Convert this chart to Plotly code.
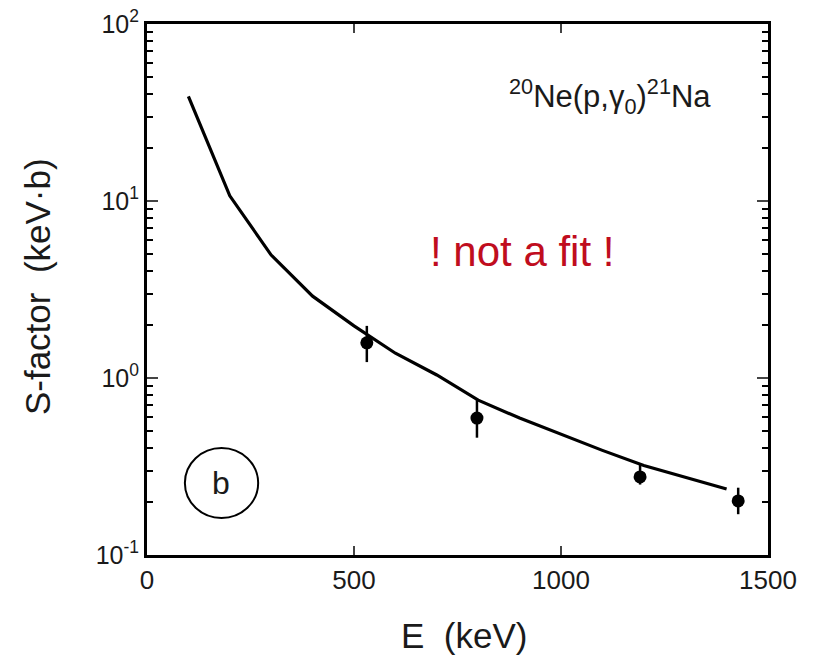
import plotly.graph_objects as go

# Model curve (not a fit)
curve_E = [100, 200, 300, 400, 500, 600, 700, 800, 900, 1000, 1100, 1200, 1300, 1400]
curve_S = [39.0, 10.7, 4.95, 2.9, 1.97, 1.38, 1.04, 0.75, 0.594, 0.48, 0.39, 0.32, 0.275, 0.236]

# Data points
data_E = [531, 797, 1191, 1428]
data_S = [1.58, 0.594, 0.276, 0.202]
err_up = [1.97, 0.75, 0.33, 0.24]
err_dn = [1.23, 0.46, 0.25, 0.17]

y_tickvals = [0.1, 1, 10, 100]
y_ticktext = ["10<sup>-1</sup>", "10<sup>0</sup>", "10<sup>1</sup>", "10<sup>2</sup>"]
y_minor = [m * d for d in (0.1, 1, 10) for m in range(2, 10)]
x_tickvals = [0, 500, 1000, 1500]

FONT = "Liberation Sans, Arial, Helvetica, sans-serif"
TXT = "#1a1a1a"

fig = go.Figure()
fig.add_trace(go.Scatter(x=curve_E, y=curve_S, mode="lines",
                         line=dict(color="black", width=3.2), showlegend=False))
fig.add_trace(go.Scatter(
    x=data_E, y=data_S, mode="markers",
    marker=dict(color="black", size=13),
    error_y=dict(type="data", symmetric=False,
                 array=[u - s for u, s in zip(err_up, data_S)],
                 arrayminus=[s - d for s, d in zip(data_S, err_dn)],
                 color="black", thickness=2.5, width=0),
    showlegend=False))

fig.update_layout(
    width=815, height=657,
    margin=dict(l=147, r=47, t=24, b=102),
    paper_bgcolor="white", plot_bgcolor="white",
    font=dict(family=FONT, color=TXT, size=24),
    xaxis=dict(range=[0, 1500], tickvals=x_tickvals, ticks="inside", ticklen=9,
               tickwidth=2, showline=True, linewidth=3, linecolor="black",
               mirror="ticks", showgrid=False, zeroline=False, automargin=False,
               tickfont=dict(size=26, color=TXT), ticklabelstandoff=0),
    yaxis=dict(type="log", range=[-1, 2], tickvals=y_tickvals, ticktext=y_ticktext,
               ticks="inside", ticklen=11, tickwidth=2, showline=True, linewidth=3,
               linecolor="black", mirror="ticks", showgrid=False, zeroline=False,
               automargin=False, tickfont=dict(size=25, color=TXT),
               minor=dict(tickvals=y_minor, ticks="inside", ticklen=6, tickwidth=2,
                          tickcolor="black", showgrid=False)),
)

# Axis titles
fig.add_annotation(x=0.5105, y=-0.1525, xref="paper", yref="paper", text="E  (keV)",
                   showarrow=False, font=dict(size=35, color=TXT), xanchor="center", yanchor="middle")
fig.add_annotation(x=-0.177, y=0.5047, xref="paper", yref="paper", text="S-factor  (keV·b)",
                   textangle=-90, showarrow=False, font=dict(size=35, color=TXT),
                   xanchor="center", yanchor="middle")

fig.add_annotation(x=1118, y=1.588, xref="x", yref="y",
                   text="<sup>20</sup>Ne(p,γ<sub>0</sub>)<sup>21</sup>Na",
                   showarrow=False, font=dict(size=31, color=TXT), xanchor="center", yanchor="middle")
fig.add_annotation(x=906, y=0.712, xref="x", yref="y", text="! not a fit !",
                   showarrow=False, font=dict(size=42, color="#c00d1e"), xanchor="center", yanchor="middle")

fig.add_shape(type="circle", xref="paper", yref="paper", x0=0.061, x1=0.179, y0=0.0697, y1=0.2015,
              line=dict(color="black", width=2))
fig.add_annotation(x=0.119, y=0.1356, xref="paper", yref="paper", text="b", showarrow=False,
                   font=dict(size=32, color=TXT), xanchor="center", yanchor="middle")

fig.write_html("out.html", config={"displayModeBar": False},
               post_script="document.body.style.margin='0';document.body.style.overflow='hidden';")
